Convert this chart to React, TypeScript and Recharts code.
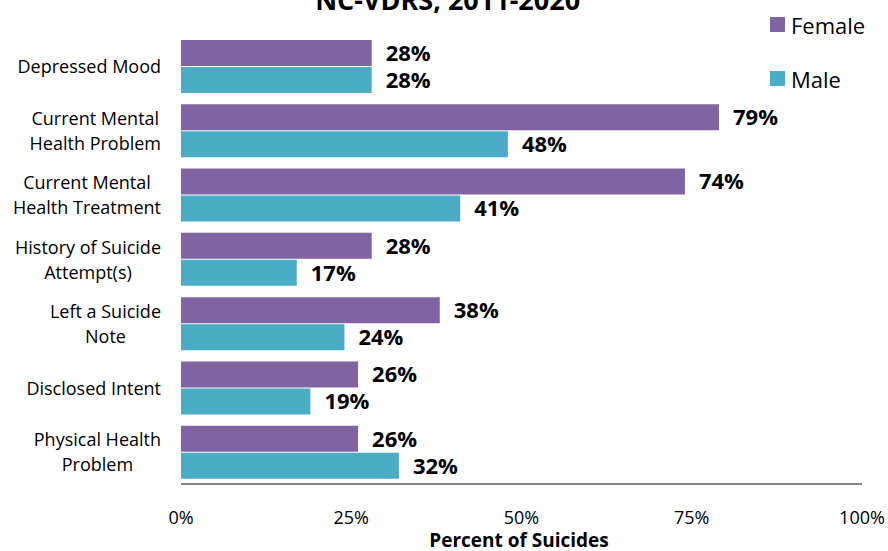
import React from 'react';
import { BarChart, Bar, XAxis, YAxis, LabelList } from 'recharts';

const categories = [
  'Depressed Mood',
  'Current Mental Health Problem',
  'Current Mental Health Treatment',
  'History of Suicide Attempt(s)',
  'Left a Suicide Note',
  'Disclosed Intent',
  'Physical Health Problem',
];
const categoryLines = [
  ['Depressed Mood'],
  ['Current Mental', 'Health Problem'],
  ['Current Mental', 'Health Treatment'],
  ['History of Suicide', 'Attempt(s)'],
  ['Left a Suicide', 'Note'],
  ['Disclosed Intent'],
  ['Physical Health', 'Problem'],
];
const female = [28, 79, 74, 28, 38, 26, 26];
const male = [28, 48, 41, 17, 24, 19, 32];
const xTicks = [0, 25, 50, 75, 100];
const seriesNames = ['Female', 'Male'];

const data = categories.map((c, i) => ({ category: c, female: female[i], male: male[i] }));

const FONT = '"Open Sans", sans-serif';
const PURPLE = '#8064A2';
const TEAL = '#4BACC6';

let ctx: CanvasRenderingContext2D | null = null;
const measure = (s: string, font: string) => {
  if (!ctx) ctx = document.createElement('canvas').getContext('2d');
  if (!ctx) return s.length * 9;
  ctx.font = font;
  return ctx.measureText(s).width;
};

// wrapped category labels, centred within their block, block right-aligned
const CategoryTick = ({ y, payload }: any) => {
  const idx = categories.indexOf(payload.value);
  const lines = categoryLines[idx] || [payload.value];
  const font = `18px ${FONT}`;
  const w = Math.max(...lines.map((l) => measure(l, font)));
  const cx = 161 - w / 2;
  const start = y - ((lines.length - 1) * 25) / 2;
  return (
    <text textAnchor="middle" fontFamily={FONT} fontSize={18} fill="#000">
      {lines.map((l, i) => (
        <tspan key={i} x={cx} y={start + i * 25} dominantBaseline="central">
          {l}
        </tspan>
      ))}
    </text>
  );
};

const PctTick = ({ x, payload }: any) => (
  <text x={x} y={517} textAnchor="middle" dominantBaseline="central" fontFamily={FONT} fontSize={18} fill="#000">
    {payload.value}%
  </text>
);

const labelStyle = { fontFamily: FONT, fontSize: 22, fontWeight: 700, fill: '#000' };

export default function App() {
  return (
    <div style={{ position: 'absolute', top: 0, left: 0, width: 888, height: 551, background: '#fff', overflow: 'hidden' }}>
      <BarChart
        width={888}
        height={551}
        data={data}
        layout="vertical"
        margin={{ top: 34, right: 26, bottom: 0, left: 0 }}
        barSize={26}
        barGap={1}
      >
        <XAxis
          type="number"
          domain={[0, 100]}
          ticks={xTicks}
          tickLine={false}
          axisLine={{ stroke: '#868686', strokeWidth: 2 }}
          tick={<PctTick />}
          height={67}
        />
        <YAxis
          type="category"
          dataKey="category"
          width={181}
          axisLine={false}
          tickLine={false}
          tick={<CategoryTick />}
        />
        <Bar dataKey="female" name="Female" fill={PURPLE} isAnimationActive={false}>
          <LabelList dataKey="female" position="right" offset={14} formatter={(v: any) => `${v}%`} style={labelStyle} />
        </Bar>
        <Bar dataKey="male" name="Male" fill={TEAL} isAnimationActive={false}>
          <LabelList dataKey="male" position="right" offset={14} formatter={(v: any) => `${v}%`} style={labelStyle} />
        </Bar>
      </BarChart>
      <svg width={888} height={551} style={{ position: 'absolute', top: 0, left: 0, pointerEvents: 'none' }}>
        <text x={452} y={10} textAnchor="middle" fontFamily={FONT} fontSize={27} fontWeight={700} fill="#000">
          NC-VDRS, 2011-2020<tspan fontSize={16} dy={-10}>*</tspan>
        </text>
        <text x={519} y={540} textAnchor="middle" dominantBaseline="central" fontFamily={FONT} fontSize={19} fontWeight={700} fill="#000">
          Percent of Suicides
        </text>
        {seriesNames.map((n, i) => (
          <g key={n}>
            <rect x={770} y={17 + i * 54} width={15} height={15} fill={i === 0 ? PURPLE : TEAL} />
            <text x={791} y={25 + i * 54} dominantBaseline="central" fontFamily={FONT} fontSize={22} fill="#000">
              {n}
            </text>
          </g>
        ))}
      </svg>
    </div>
  );
}
